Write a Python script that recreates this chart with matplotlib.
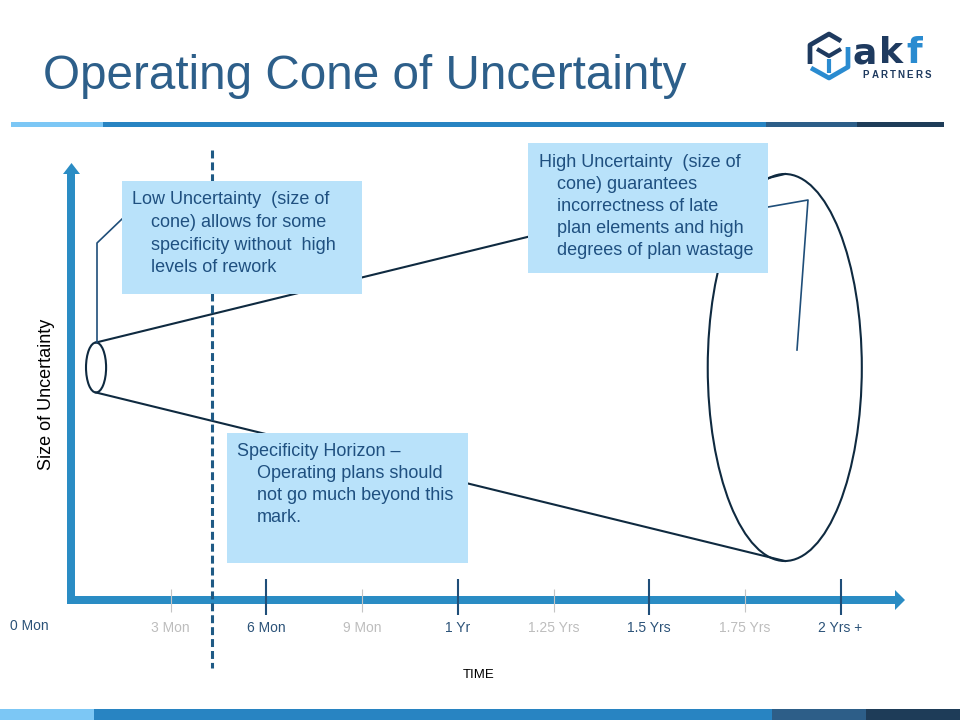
import matplotlib
matplotlib.use('Agg')
import matplotlib.pyplot as plt
from matplotlib.patches import Rectangle, Ellipse, Polygon
from matplotlib.transforms import Affine2D, offset_copy
from matplotlib.lines import Line2D

plt.rcParams['font.family'] = ['Liberation Sans', 'DejaVu Sans']

# ---------------- data ----------------
tick_months = [3, 6, 9, 12, 15, 18, 21, 24]
tick_labels = ['3 Mon', '6 Mon', '9 Mon', '1 Yr', '1.25 Yrs', '1.5 Yrs', '1.75 Yrs', '2 Yrs +']
tick_major = [False, True, False, True, False, True, False, True]
origin_label = '0 Mon'
horizon_month = 4.3                 # specificity horizon (dashed line)
cone_months = [0.66, 22.25]         # position of the cone mouths along time
cone_sizes = [50, 387]              # size of uncertainty (cone diameter)
cone_depths = [0.63, 4.83]          # perspective width of the ellipses (months)
cone_center = 367.5

title = 'Operating Cone of Uncertainty'
ylabel = 'Size of Uncertainty'
xlabel = 'TIME'
low_text = ['Low Uncertainty  (size of', 'cone) allows for some',
            'specificity without  high', 'levels of rework']
high_text = ['High Uncertainty  (size of', 'cone) guarantees',
             'incorrectness of late', 'plan elements and high',
             'degrees of plan wastage']
horizon_text = ['Specificity Horizon \u2013', 'Operating plans should',
                'not go much beyond this', 'mark.']

# ---------------- styling ----------------
W, H = 960, 720
AXIS_BLUE = '#2a8cc4'
DARK = '#1f4e79'
LINE = '#0f2a40'
BOX = '#b9e2fa'
TXT = '#1f5080'
GRAY = '#c4c4c4'

fig = plt.figure(figsize=(W / 100, H / 100), dpi=100)
ax = fig.add_axes([0, 0, 1, 1])
ax.axis('off')
px_per_month, x0 = 31.9, 75.0
ax.set_xlim(-x0 / px_per_month, (W - x0) / px_per_month)
ax.set_ylim(H, 0)
P = Affine2D().scale(1 / W, -1 / H).translate(0, 1) + fig.transFigure

# header / footer bars
for (a, b, c) in [(11, 103, '#7cc7f5'), (103, 766, '#2884c2'),
                  (766, 857, '#2d5e88'), (857, 944, '#1e3c58')]:
    ax.add_patch(Rectangle((a, 122), b - a, 5, transform=P, color=c, lw=0, zorder=1))
for (a, b, c) in [(0, 94, '#7cc7f5'), (94, 772, '#2884c2'),
                  (772, 866, '#2d5e88'), (866, 960, '#1e3c58')]:
    ax.add_patch(Rectangle((a, 709), b - a, 11, transform=P, color=c, lw=0, zorder=1))

# title
ax.text(43, 89, title, transform=P, fontsize=34.3, color='#2d5f8a',
        ha='left', va='baseline', zorder=6)

# logo
ax.add_line(Line2D([810, 810, 829, 841], [64, 45, 34, 41], transform=P,
                   color='#1e3a5f', lw=3.4, solid_capstyle='butt', zorder=6))
ax.add_line(Line2D([848, 848, 829, 811], [47, 67, 78, 68], transform=P,
                   color='#2a8bd0', lw=3.4, solid_capstyle='butt', zorder=6))
ax.add_line(Line2D([817, 829, 841], [49, 56, 49], transform=P,
                   color='#1e3a5f', lw=3.0, solid_capstyle='butt', zorder=6))
ax.add_line(Line2D([829, 829], [59, 73], transform=P,
                   color='#2a8bd0', lw=3.0, solid_capstyle='butt', zorder=6))
for ch, xx, cc in [('a', 852, '#1e3a5f'), ('k', 879, '#1e3a5f'), ('f', 906, '#2a8bd0')]:
    ax.text(xx, 63, ch, transform=P, fontsize=26, fontweight='bold', color=cc,
            family='DejaVu Sans', ha='left', va='baseline', zorder=6)
for i, ch in enumerate('PARTNERS'):
    ax.text(866 + i * 8.8, 78, ch, transform=P, fontsize=7, fontweight='bold',
            color='#1e3a5f', ha='center', va='baseline', zorder=6)

# axes arrows
ax.add_patch(Rectangle((67, 172), 8, 432, transform=P, color=AXIS_BLUE, lw=0, zorder=2))
ax.add_patch(Polygon([(63, 174), (80, 174), (71.5, 163)], closed=True, transform=P,
                     color=AXIS_BLUE, lw=0, zorder=2))
ax.add_patch(Rectangle((67, 596), 829, 8, transform=P, color=AXIS_BLUE, lw=0, zorder=2))
ax.add_patch(Polygon([(895, 590), (895, 610), (905, 600)], closed=True, transform=P,
                     color=AXIS_BLUE, lw=0, zorder=2))

# ticks & labels
for m, lab, major in zip(tick_months, tick_labels, tick_major):
    if major:
        ax.vlines(m, 579, 615, color=DARK, lw=1.5, zorder=3)
        ax.text(m, 632, lab, fontsize=10, color='#2b5278', ha='center',
                va='baseline', zorder=6)
    else:
        ax.vlines(m, 589, 612, color=GRAY, lw=0.8, zorder=3)
        ax.text(m, 632, lab, fontsize=10, color='#bdbdbd', ha='center',
                va='baseline', zorder=6)
ax.text(0, 630, origin_label, fontsize=10, color='#2b5278', ha='center', va='baseline',
        transform=offset_copy(ax.transData, fig=fig, x=-46, y=0, units='dots'), zorder=6)

ax.text(47, 394, ylabel, transform=P, fontsize=13, rotation=90, color='black',
        ha='center', va='center', zorder=6)
ax.text(479, 675, xlabel, transform=P, fontsize=9.5, color='black',
        ha='center', va='center', zorder=6)

# specificity horizon
ax.vlines(horizon_month, 150, 668, color='#1f5a85', lw=2.2,
          linestyles=[(0, (2.6, 1.3))], zorder=4)

# cone
for m, s, d in zip(cone_months, cone_sizes, cone_depths):
    ax.add_patch(Ellipse((m, cone_center), d, s, fill=False, edgecolor=LINE,
                         lw=1.5, zorder=3))
ax.plot(cone_months, [cone_center - s / 2 for s in cone_sizes], color=LINE, lw=1.5, zorder=3)
ax.plot(cone_months, [cone_center + s / 2 for s in cone_sizes], color=LINE, lw=1.5, zorder=3)

# callout leaders
ax.add_line(Line2D([122, 97, 97], [219, 243, 342], transform=P, color=DARK, lw=1.2, zorder=4))
ax.add_line(Line2D([768, 808, 797], [207, 200, 350], transform=P, color=DARK, lw=1.2, zorder=4))

# callout boxes
def callout(x, y, w, h, lines, x_first, x_rest, base0, step):
    ax.add_patch(Rectangle((x, y), w, h, transform=P, color=BOX, lw=0, zorder=5))
    for i, t in enumerate(lines):
        ax.text(x_first if i == 0 else x_rest, base0 + i * step, t, transform=P,
                fontsize=13, color=TXT, ha='left', va='baseline', zorder=6)

callout(122, 181, 240, 113, low_text, 132, 151, 204, 22.8)
callout(528, 143, 240, 130, high_text, 539, 557, 167, 22.0)
callout(227, 433, 241, 130, horizon_text, 237, 257, 456, 22.0)

fig.savefig('out.png', dpi=100)
